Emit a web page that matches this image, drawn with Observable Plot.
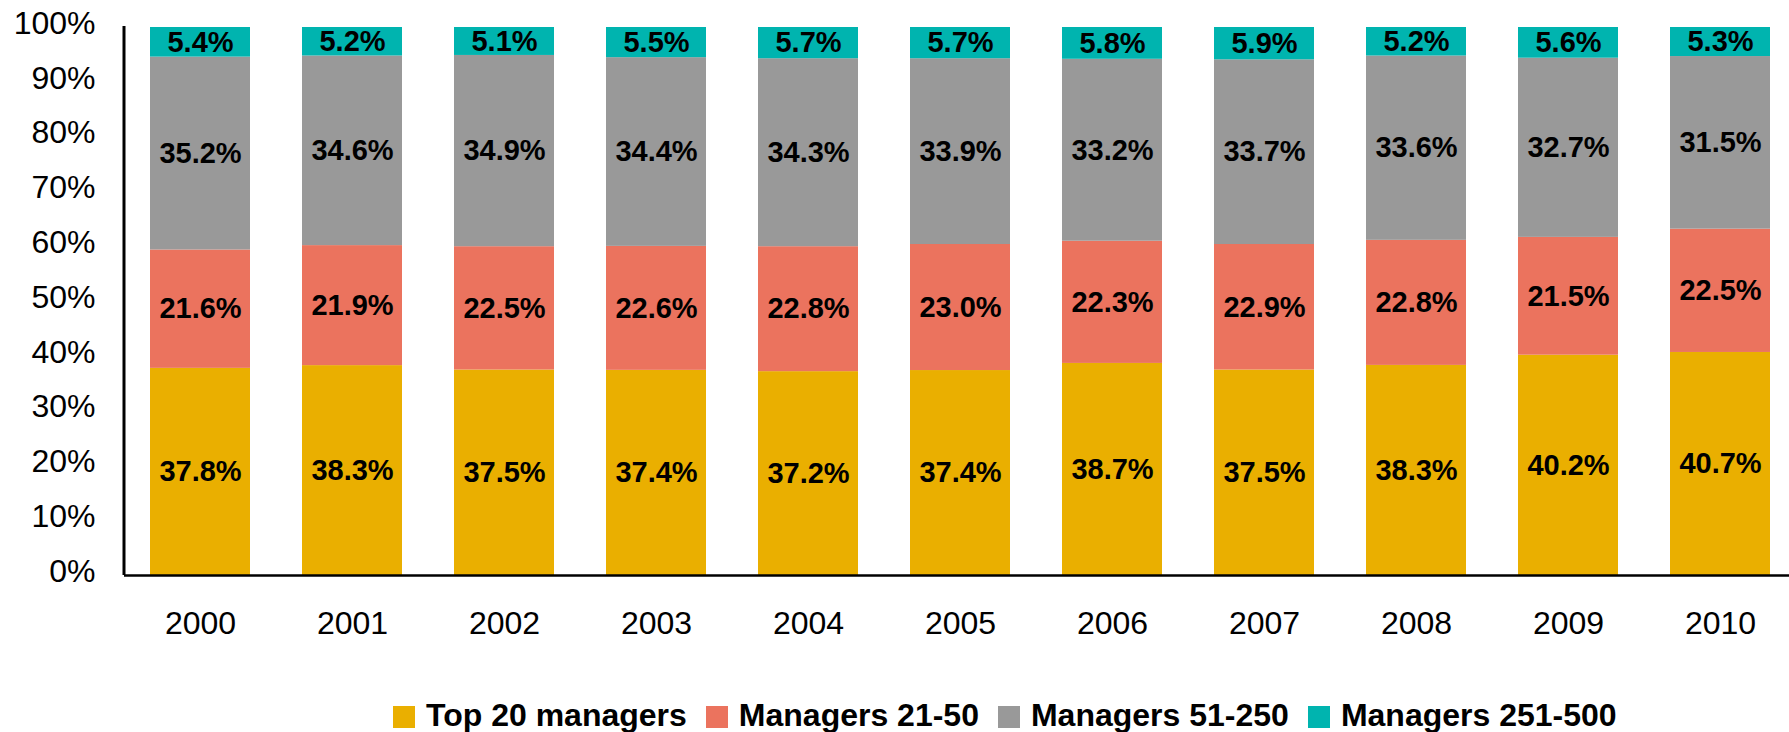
<!DOCTYPE html>
<html>
<head>
<meta charset="utf-8">
<script src="https://cdn.jsdelivr.net/npm/d3@7"></script>
<script src="https://cdn.jsdelivr.net/npm/@observablehq/plot@0.6"></script>
<style>
  html, body { margin: 0; padding: 0; background: white; }
  #wrap { position: relative; width: 1789px; height: 732px; font-family: "Liberation Sans", Arial, sans-serif; }
  #legend { position: absolute; left: 393px; top: 699px; font-size: 32px; font-weight: bold; line-height: 32px; white-space: nowrap; color: black; }
  #legend .item { display: inline-block; margin-right: 19px; }
  #legend .sw { display: inline-block; width: 22px; height: 22px; margin-right: 11px; vertical-align: -2px; }
</style>
</head>
<body>
<div id="wrap"><div id="chart"></div><div id="legend"></div></div>
<script>
const years = ["2000","2001","2002","2003","2004","2005","2006","2007","2008","2009","2010"];
const series = ["Top 20 managers","Managers 21-50","Managers 51-250","Managers 251-500"];
const top20  = [37.8, 38.3, 37.5, 37.4, 37.2, 37.4, 38.7, 37.5, 38.3, 40.2, 40.7];
const m21_50 = [21.6, 21.9, 22.5, 22.6, 22.8, 23.0, 22.3, 22.9, 22.8, 21.5, 22.5];
const m51_250 = [35.2, 34.6, 34.9, 34.4, 34.3, 33.9, 33.2, 33.7, 33.6, 32.7, 31.5];
const m251_500 = [5.4, 5.2, 5.1, 5.5, 5.7, 5.7, 5.8, 5.9, 5.2, 5.6, 5.3];
const colors = ["#EAAF00", "#EB735E", "#999999", "#00B4AF"];
const yTicks = [0,0.1,0.2,0.3,0.4,0.5,0.6,0.7,0.8,0.9,1];

const seriesValues = [top20, m21_50, m51_250, m251_500];
const data = years.flatMap((year, i) => series.map((s, j) => ({year, series: s, value: seriesValues[j][i]})));

const stackOpts = {offset: "normalize", order: series};

const leftLine = (index, scales, values, dimensions) => {
  const l = d3.create("svg:line")
    .attr("x1", dimensions.marginLeft).attr("x2", dimensions.marginLeft)
    .attr("y1", scales.y(1) - 1).attr("y2", scales.y(0))
    .attr("stroke", "black").attr("stroke-width", 3);
  return l.node();
};

const chart = Plot.plot({
  width: 1789,
  height: 660,
  marginLeft: 124,
  marginRight: 0,
  marginTop: 27,
  marginBottom: 85,
  x: {domain: years, range: [124, 1795], paddingInner: 0.343, paddingOuter: 0.158, align: 0.5},
  y: {domain: [0, 1]},
  color: {domain: series, range: colors},
  style: {fontFamily: "'Liberation Sans', Arial, sans-serif", fontSize: "32px", background: "white", color: "black", overflow: "visible"},
  marks: [
    Plot.barY(data, Plot.stackY(stackOpts, {x: "year", y: "value", z: "series", fill: "series"})),
    Plot.text(data, Plot.stackY(stackOpts, {x: "year", y: "value", z: "series",
      text: d => d.value.toFixed(1) + "%", fontSize: 29, fontWeight: "bold", fill: "black"})),
    Plot.ruleY([0], {stroke: "black", strokeWidth: 2.5}),
    leftLine,
    Plot.axisY({ticks: yTicks, tickFormat: d => Math.round(d * 100) + "%", tickSize: 0, tickPadding: 29, fontSize: 32, dy: -4, label: null}),
    Plot.axisX({tickSize: 0, tickPadding: 36, fontSize: 32, label: null})
  ]
});
document.getElementById("chart").appendChild(chart);

const legend = document.getElementById("legend");
series.forEach((s, i) => {
  const item = document.createElement("span");
  item.className = "item";
  const sw = document.createElement("span");
  sw.className = "sw";
  sw.style.background = colors[i];
  item.appendChild(sw);
  item.appendChild(document.createTextNode(s));
  legend.appendChild(item);
});
</script>
</body>
</html>
